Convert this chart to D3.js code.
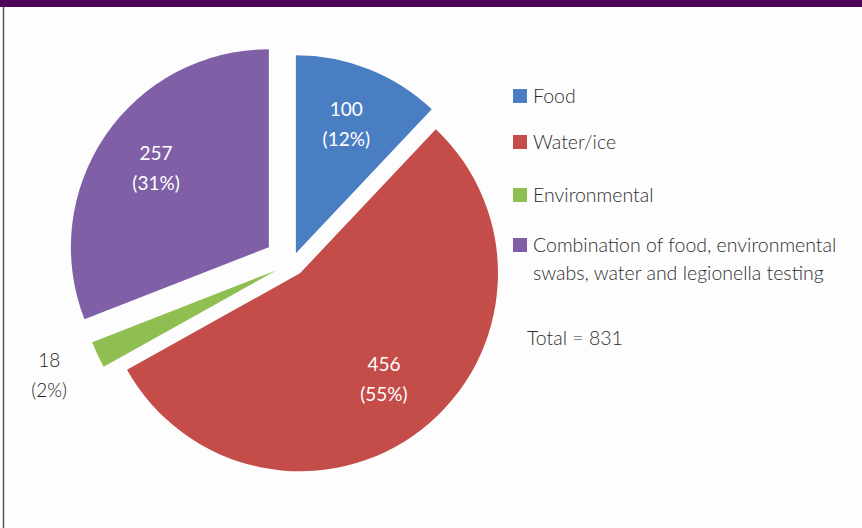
<!DOCTYPE html>
<html>
<head>
<meta charset="utf-8">
<script src="https://cdn.jsdelivr.net/npm/d3@7/dist/d3.min.js"></script>
<style>
  html, body { margin: 0; padding: 0; background: #fdfdfd; }
  svg { display: block; }
</style>
</head>
<body>
<svg id="chart" width="862" height="528"></svg>
<script>
// ---- data ----
const categories = ["Food", "Water/ice", "Environmental", "Combination of food, environmental|swabs, water and legionella testing"];
const values = [100, 456, 18, 257];
const percentLabels = ["(12%)", "(55%)", "(2%)", "(31%)"];
const totalLabel = "Total = 831";

// ---- style ----
const colors = ["#4a7ec3", "#c44c49", "#8fbf50", "#7f60a6"];
const explode = [10.5, 13, 17, 28];        // px offset of each slice along its mid-angle
const insideLabel = [true, true, false, true];
const fontFamily = "Lato, 'Open Sans', sans-serif";

const W = 862, H = 528;
const svg = d3.select("#chart");

// background & frame
svg.append("rect").attr("x", 0).attr("y", 0).attr("width", W).attr("height", H).attr("fill", "#fdfdfd");
svg.append("rect").attr("x", 0).attr("y", 0).attr("width", W).attr("height", 7).attr("fill", "#4e0658");
svg.append("line").attr("x1", 3.5).attr("x2", 3.5).attr("y1", 7).attr("y2", H)
   .attr("stroke", "#555").attr("stroke-width", 1.5);

// pie
const cx = 292, cy = 263, r = 198;
const pie = d3.pie().sort(null).value(d => d)(values);
const arc = d3.arc().innerRadius(0).outerRadius(r);
const g = svg.append("g").attr("transform", `translate(${cx},${cy})`);

pie.forEach((p, i) => {
  const mid = (p.startAngle + p.endAngle) / 2;
  const ox = Math.sin(mid) * explode[i], oy = -Math.cos(mid) * explode[i];
  const sg = g.append("g").attr("transform", `translate(${ox},${oy})`);
  sg.append("path").attr("d", arc(p)).attr("fill", colors[i]);

  const lr = insideLabel[i] ? r * 0.69 : r * 1.27;
  const lx = Math.sin(mid) * lr, ly = -Math.cos(mid) * lr;
  const t = sg.append("text")
    .attr("x", lx).attr("y", ly)
    .attr("text-anchor", "middle")
    .attr("font-family", fontFamily)
    .attr("font-weight", insideLabel[i] ? 400 : 300)
    .attr("font-size", 19)
    .attr("fill", insideLabel[i] ? "#ffffff" : "#222222");
  t.append("tspan").attr("x", lx).attr("dy", -10).text(values[i]);
  t.append("tspan").attr("x", lx).attr("dy", 30).text(percentLabels[i]);
});

// legend
const legend = svg.append("g").attr("transform", "translate(513,0)");
const legendY = [96, 142, 195, 245];
categories.forEach((c, i) => {
  const lg = legend.append("g").attr("transform", `translate(0,${legendY[i]})`);
  lg.append("rect").attr("x", 0).attr("y", -7).attr("width", 14).attr("height", 14).attr("fill", colors[i]);
  const lines = c.split("|");
  lines.forEach((ln, j) => {
    lg.append("text")
      .attr("x", 20).attr("y", j * 28 + 7)
      .attr("font-family", fontFamily)
      .attr("font-weight", 300)
      .attr("font-size", 19.5)
      .attr("fill", "#2e2e2e")
      .text(ln);
  });
});
legend.append("text")
  .attr("x", 14).attr("y", 345)
  .attr("font-family", fontFamily)
  .attr("font-weight", 300)
  .attr("font-size", 19.5)
  .attr("fill", "#2e2e2e")
  .text(totalLabel);
</script>
</body>
</html>
